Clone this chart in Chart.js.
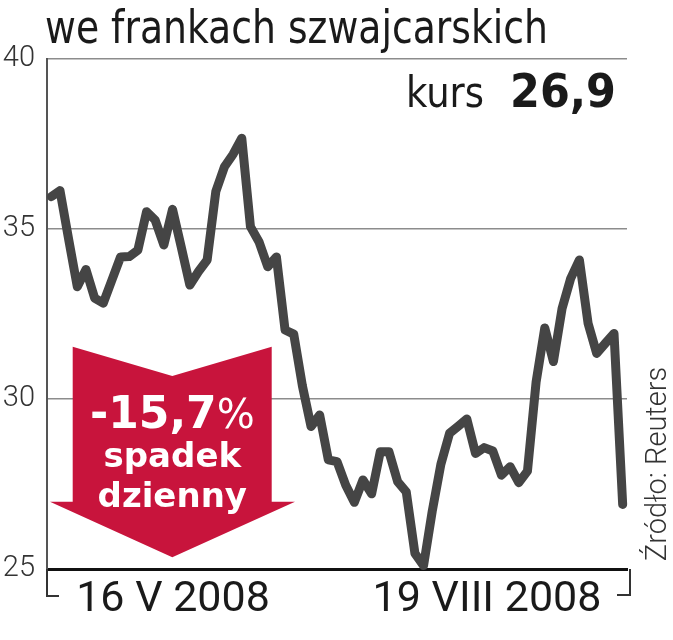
<!DOCTYPE html>
<html>
<head>
<meta charset="utf-8">
<script src="https://cdn.jsdelivr.net/npm/chart.js@4.4.0/dist/chart.umd.min.js"></script>
<style>
html, body { margin: 0; padding: 0; background: #fff; }
</style>
</head>
<body>
<canvas id="chf" width="673" height="640"></canvas>
<script>
// sesje 16 V - 19 VIII 2008, kurs w CHF
const dates = [
  '16.05','19.05','20.05','21.05','22.05','23.05','26.05','27.05','28.05','29.05','30.05',
  '02.06','03.06','04.06','05.06','06.06','09.06','10.06','11.06','12.06','13.06',
  '16.06','17.06','18.06','19.06','20.06','23.06','24.06','25.06','26.06','27.06','30.06',
  '01.07','02.07','03.07','04.07','07.07','08.07','09.07','10.07','11.07','14.07','15.07',
  '16.07','17.07','18.07','21.07','22.07','23.07','24.07','25.07','28.07','29.07','30.07','31.07',
  '04.08','05.08','06.08','07.08','08.08','11.08','12.08','13.08','14.08','15.08','18.08','19.08'
];
const prices = [
  35.95, 36.13, 34.7, 33.3, 33.81, 32.97, 32.82, 33.5, 34.18, 34.19, 34.38,
  35.51, 35.26, 34.53, 35.58, 34.48, 33.35, 33.75, 34.09, 36.1, 36.83,
  37.2, 37.67, 35.07, 34.62, 33.89, 34.18, 32.03, 31.91, 30.39, 29.19, 29.53,
  28.21, 28.16, 27.47, 26.96, 27.62, 27.21, 28.45, 28.45, 27.57, 27.27, 25.46,
  25.1, 26.7, 28.08, 28.99, 29.2, 29.41, 28.4, 28.57, 28.47, 27.76, 28.01, 27.54,
  27.88, 30.5, 32.09, 31.1, 32.66, 33.55, 34.09, 32.23, 31.34, 31.64, 31.93, 26.9
];
const yTicks = [25, 30, 35, 40];
const edgeLabels = ['16 V 2008', '19 VIII 2008'];

const titleText = 'we frankach szwajcarskich';
const lastLabel = 'kurs';
const lastValue = '26,9';
const dropPct = '-15,7';
const dropLines = ['spadek', 'dzienny'];
const sourceText = 'Źródło: Reuters';

// tekst zwężony do zadanej szerokości (brak fontu DIN)
function narrowText(ctx, txt, x, y, font, width, align) {
  ctx.save();
  ctx.font = font;
  try { ctx.fontStretch = 'condensed'; } catch (e) {}
  const m = ctx.measureText(txt).width;
  const k = width / m;
  const x0 = align === 'right' ? x - width : x;
  ctx.translate(x0, y);
  ctx.scale(k, 1);
  ctx.textAlign = 'left';
  ctx.fillText(txt, 0, 0);
  ctx.restore();
}

const decor = {
  id: 'decor',
  afterDraw(chart) {
    const ctx = chart.ctx;
    const a = chart.chartArea;
    ctx.save();
    ctx.textBaseline = 'alphabetic';

    // tytuł
    ctx.fillStyle = '#1a1a1a';
    narrowText(ctx, titleText, 45, 43, '400 46px "DejaVu Sans", sans-serif', 503, 'left');

    // kurs 26,9
    narrowText(ctx, lastValue, 616, 107, '700 47px "DejaVu Sans", sans-serif', 106, 'right');
    narrowText(ctx, lastLabel, 484, 107, '400 42px "DejaVu Sans", sans-serif', 78, 'right');

    // nawiasy osi X
    ctx.strokeStyle = '#333';
    ctx.lineWidth = 2;
    ctx.beginPath();
    ctx.moveTo(a.left, a.bottom);
    ctx.lineTo(a.left, a.bottom + 27);
    ctx.lineTo(a.left + 12, a.bottom + 27);
    ctx.moveTo(a.right + 3, a.bottom);
    ctx.lineTo(a.right + 3, a.bottom + 26);
    ctx.lineTo(a.right - 10, a.bottom + 26);
    ctx.stroke();

    // daty
    ctx.fillStyle = '#1a1a1a';
    ctx.textAlign = 'center';
    ctx.font = '400 43px Roboto, sans-serif';
    ctx.fillText(edgeLabels[0], 173, 611);
    ctx.fillText(edgeLabels[1], 487, 611);

    // czerwona strzałka
    const cx = 172.3;
    ctx.fillStyle = '#c8143c';
    ctx.beginPath();
    ctx.moveTo(72.7, 346.7);
    ctx.lineTo(cx, 376);
    ctx.lineTo(271.7, 346.7);
    ctx.lineTo(271.7, 501.7);
    ctx.lineTo(295, 501.7);
    ctx.lineTo(cx, 557.3);
    ctx.lineTo(50, 501.7);
    ctx.lineTo(72.7, 501.7);
    ctx.closePath();
    ctx.fill();

    ctx.fillStyle = '#fff';
    ctx.textAlign = 'left';
    ctx.font = '700 44px "DejaVu Sans", sans-serif';
    const pw = ctx.measureText(dropPct).width;
    ctx.font = '400 40px "DejaVu Sans", sans-serif';
    const sw = ctx.measureText('%').width;
    const px = cx - (pw + sw) / 2;
    ctx.font = '700 44px "DejaVu Sans", sans-serif';
    ctx.fillText(dropPct, px, 428);
    ctx.font = '400 40px "DejaVu Sans", sans-serif';
    ctx.fillText('%', px + pw, 428);
    ctx.textAlign = 'center';
    ctx.font = '700 34px "DejaVu Sans", sans-serif';
    ctx.fillText(dropLines[0], cx, 467);
    ctx.fillText(dropLines[1], cx, 507);

    // źródło
    ctx.fillStyle = '#333';
    ctx.translate(666, 464);
    ctx.rotate(-Math.PI / 2);
    ctx.textAlign = 'center';
    ctx.font = '300 29px Roboto, sans-serif';
    ctx.fillText(sourceText, 0, 0);

    ctx.restore();
  }
};

new Chart(document.getElementById('chf'), {
  type: 'line',
  data: {
    labels: dates,
    datasets: [{
      data: prices,
      borderColor: '#454545',
      borderWidth: 9,
      borderJoinStyle: 'round',
      borderCapStyle: 'round',
      pointRadius: 0,
      tension: 0,
      clip: false
    }]
  },
  options: {
    responsive: false,
    animation: false,
    layout: { padding: { top: 59, right: 46, left: 0, bottom: 0 } },
    plugins: { legend: { display: false }, tooltip: { enabled: false }, title: { display: false } },
    scales: {
      x: {
        type: 'category',
        offset: true,
        grid: { display: false },
        ticks: { display: false },
        border: { display: true, color: '#111', width: 3 },
        afterFit: s => { s.height = 71; }
      },
      y: {
        min: 25,
        max: 40,
        afterBuildTicks: s => { s.ticks = yTicks.map(v => ({ value: v })); },
        ticks: {
          padding: 12,
          color: '#333',
          font: { family: 'Roboto', weight: '300', size: 29 }
        },
        grid: {
          drawTicks: false,
          lineWidth: 1.5,
          color: c => c.tick && c.tick.value === 25 ? 'rgba(0,0,0,0)' : '#8c8c8c'
        },
        border: { display: true, color: '#555', width: 2 },
        afterFit: s => { s.width = 47; }
      }
    }
  },
  plugins: [decor]
});
</script>
</body>
</html>
